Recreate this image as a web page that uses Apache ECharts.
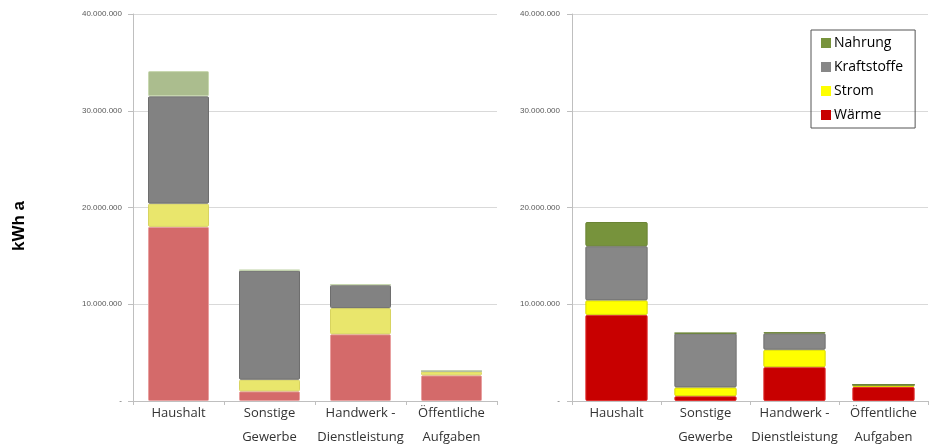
<!DOCTYPE html>
<html><head><meta charset="utf-8">
<script src="https://cdn.jsdelivr.net/npm/echarts@6/dist/echarts.min.js"></script>
<style>html,body{margin:0;padding:0;background:#fff}#c{width:929px;height:447px}</style>
</head><body><div id="c"></div>
<script>
var categories = ['Haushalt', 'Sonstige\nGewerbe', 'Handwerk -\nDienstleistung', 'Öffentliche\nAufgaben'];
var seriesNames = ['Wärme', 'Strom', 'Kraftstoffe', 'Nahrung'];
// left chart (values in kWh a)
var leftWaerme = [18000000, 1000000, 6900000, 2650000];
var leftStrom = [2400000, 1200000, 2700000, 400000];
var leftKraftstoffe = [11100000, 11300000, 2400000, 50000];
var leftNahrung = [2600000, 50000, 50000, 0];
// right chart
var rightWaerme = [8900000, 500000, 3500000, 1450000];
var rightStrom = [1500000, 900000, 1800000, 200000];
var rightKraftstoffe = [5600000, 5600000, 1700000, 30000];
var rightNahrung = [2500000, 30000, 100000, 0];
var yTicks = [0, 10000000, 20000000, 30000000, 40000000];

var leftColors = {'Wärme':'#d46a6a','Strom':'#e9e66c','Kraftstoffe':'#828282','Nahrung':'#abbd8e'};
var rightColors = {'Wärme':'#c80000','Strom':'#ffff00','Kraftstoffe':'#878787','Nahrung':'#77933c'};
var borderL = {'Wärme':'#e8a0a0','Strom':'#d8d460','Kraftstoffe':'#6e6e6e','Nahrung':'#c8d8b0'};
var borderR = {'Wärme':'#e03030','Strom':'#d8d800','Kraftstoffe':'#707070','Nahrung':'#6a8434'};

function fmt(v){ if(v===0) return '-'; return String(v).replace(/\B(?=(\d{3})+(?!\d))/g,'.'); }

var leftData = [leftWaerme, leftStrom, leftKraftstoffe, leftNahrung];
var rightData = [rightWaerme, rightStrom, rightKraftstoffe, rightNahrung];

var series = [];
seriesNames.forEach(function(n,i){
  series.push({name:n,type:'bar',stack:'L',xAxisIndex:0,yAxisIndex:0,data:leftData[i],barCategoryGap:'33%',
    itemStyle:{color:leftColors[n],borderColor:borderL[n],borderWidth:1,borderRadius:1}});
});
seriesNames.forEach(function(n,i){
  series.push({name:n,type:'bar',stack:'R',xAxisIndex:1,yAxisIndex:1,data:rightData[i],barCategoryGap:'30%',
    itemStyle:{color:rightColors[n],borderColor:borderR[n],borderWidth:1,borderRadius:1}});
});

function yAxis(gi, margin){
  return {type:'value',gridIndex:gi,min:yTicks[0],max:yTicks[yTicks.length-1],interval:10000000,
    axisLine:{show:true,lineStyle:{color:'#bfbfbf'}},
    axisTick:{show:true,length:5,lineStyle:{color:'#bfbfbf'}},
    axisLabel:{formatter:fmt,fontSize:8,color:'#595959',margin:margin,fontFamily:'Liberation Sans'},
    splitLine:{show:true,lineStyle:{color:'#d9d9d9'}}};
}
function xAxis(gi){
  return {type:'category',gridIndex:gi,data:categories,
    axisLine:{show:true,lineStyle:{color:'#bfbfbf'}},
    axisTick:{show:true,length:4,lineStyle:{color:'#bfbfbf'}},
    axisLabel:{fontSize:13,color:'#333',lineHeight:24,margin:0,fontFamily:'Open Sans',interval:0}};
}

var chart = echarts.init(document.getElementById('c'));
chart.setOption({
  animation:false,
  grid:[{left:133,top:14,width:364,height:387,outerBoundsMode:'none',containLabel:false},
        {left:572,top:14,width:356,height:387,outerBoundsMode:'none',containLabel:false}],
  xAxis:[xAxis(0),xAxis(1)],
  yAxis:[yAxis(0,11),yAxis(1,12)],
  graphic:[{type:'text',rotation:Math.PI/2,x:19,y:226,
    style:{text:'kWh a',font:'bold 17px "Liberation Sans"',fill:'#000',textAlign:'center',textVerticalAlign:'middle'}}],
  legend:{orient:'vertical',left:811,top:30,width:108,itemWidth:10,itemHeight:10,itemGap:10,padding:[6,12,6,10],
    borderColor:'#555',borderWidth:1,icon:'rect',
    textStyle:{fontSize:14,color:'#000',fontFamily:'Open Sans',padding:[0,0,0,-2]},
    data:[{name:'Nahrung',itemStyle:{color:'#77933c',borderWidth:0}},{name:'Kraftstoffe',itemStyle:{color:'#878787',borderWidth:0}},
          {name:'Strom',itemStyle:{color:'#ffff00',borderWidth:0}},{name:'Wärme',itemStyle:{color:'#c80000',borderWidth:0}}]},
  series:series
});
</script></body></html>
